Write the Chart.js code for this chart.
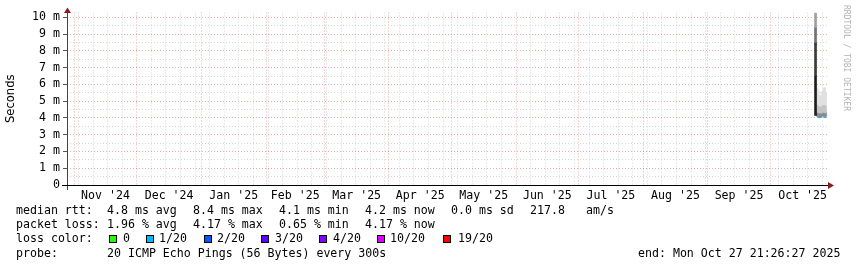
<!DOCTYPE html>
<html>
<head>
<meta charset="utf-8">
<title>smokeping - last 400 days</title>
<script src="https://cdn.jsdelivr.net/npm/chart.js@4/dist/chart.umd.min.js"></script>
<style>
  html, body { margin: 0; padding: 0; background: #fff; }
  #wrap { position: relative; width: 857px; height: 267px; overflow: hidden; }
  #wrap canvas { position: absolute; left: 0; top: 0; }
  .t { position: absolute; font-family: "DejaVu Sans Mono", monospace; font-size: 11.6px; line-height: 14px; color: #000; white-space: pre; }
  .box { position: absolute; width: 8px; height: 8px; border: 1px solid #000; box-sizing: border-box; }
  #wm { position: absolute; left: 842px; top: 5px; writing-mode: vertical-rl; font-family: "DejaVu Sans Mono", monospace; font-size: 8px; line-height: 8px; color: #b4b4b4; white-space: pre; }
</style>
</head>
<body>
<div id="wrap">
  <canvas id="chart" width="857" height="267"></canvas>
  <div id="wm">RRDTOOL / TOBI OETIKER</div>
  <div id="legend"></div>
</div>
<script>
// ==================== DATA ====================
// x values are days counted from 2024-10-01 00:00
const X_MIN = 27.5;
const X_MAX = 392.2;
const Y_MAX = 0.01029; // seconds

const monthStarts = [31, 61, 92, 123, 151, 182, 212, 243, 273, 304, 335, 365, 396];
const monthLabels = ["Nov '24", "Dec '24", "Jan '25", "Feb '25", "Mar '25", "Apr '25",
                     "May '25", "Jun '25", "Jul '25", "Aug '25", "Sep '25", "Oct '25"];
const firstSunday = 33; // Nov 3 2024

// first sample column (the big spike)
const spikeDay = 386.7;
const spikeLayersMs = [[9.4, 10.25], [8.5, 9.4], [6.5, 8.5], [4.15, 6.5]];
const spikeColors = ['#a0a0a0', '#707070', '#3a3a3a', '#1e1e1e'];
const spikeMedianMs = 8.43;

// following sample columns
const sampleDays = [387.2, 387.7, 388.2, 388.7, 389.2, 389.7, 390.2, 390.7, 391.2, 391.7];
const smokeTopMs = [5.8, 5.75, 5.6, 5.35, 5.3, 5.55, 5.65, 5.8, 5.8, 5.5];
const smokeMidMs = [4.8, 4.8, 4.75, 4.7, 4.7, 4.75, 4.8, 4.8, 4.8, 4.75];
const smokeLowMs = [4.35, 4.35, 4.3, 4.3, 4.3, 4.3, 4.35, 4.35, 4.3, 4.35];
const smokeMinMs = [4.15, 4.1, 4.05, 4.1, 4.05, 4.1, 4.15, 4.1, 4.05, 4.15];
const medianMs = [4.2, 4.15, 4.1, 4.15, 4.1, 4.15, 4.2, 4.15, 4.1, 4.2];

const lossColors = ['#26ff00', '#00b8ff', '#0059ff', '#5e00ff', '#7e00ff', '#dd00ff', '#ff0000'];
const lossLabels = ['0', '1/20', '2/20', '3/20', '4/20', '10/20', '19/20'];

const rttStats = ['4.8 ms avg', '8.4 ms max', '4.1 ms min', '4.2 ms now', '0.0 ms sd', '217.8', 'am/s'];
const lossStats = ['1.96 % avg', '4.17 % max', '0.65 % min', '4.17 % now'];
const probeText = '20 ICMP Echo Pings (56 Bytes) every 300s';
const endText = 'end: Mon Oct 27 21:26:27 2025';

// ==================== HELPERS ====================
const ms = v => v / 1000;
const MAJOR = 'rgba(232, 90, 90, 0.5)';
const MINOR = '#d6d6d6';
const NONE = 'rgba(0,0,0,0)';

const labelDays = monthLabels.map((_, i) => (monthStarts[i] + monthStarts[i + 1]) / 2);
const weekDays = [];
for (let d = firstSunday; d < X_MAX; d += 7) weekDays.push(d);

const majorMonths = monthStarts.filter(d => d >= X_MIN && d <= X_MAX);
const xTicks = Array.from(new Set([...weekDays, ...majorMonths, ...labelDays])).sort((a, b) => a - b);

const yTicks = [];
for (let i = 0; i <= 20; i++) yTicks.push(i * 0.0005);

function isMajorY(v) {
    const m = v * 1000;
    return Math.abs(m - Math.round(m)) < 1e-6;
}

function floating(days, lo, hi) {
    return days.map((d, i) => ({ x: d, y: [ms(lo[i]), ms(hi[i])] }));
}

// ==================== DATASETS ====================
const datasets = [];

spikeLayersMs.forEach((layer, i) => {
    datasets.push({
        type: 'bar',
        data: [{ x: spikeDay, y: [ms(layer[0]), ms(layer[1])] }],
        backgroundColor: spikeColors[i],
        barThickness: 2,
        grouped: false
    });
});

datasets.push({ type: 'bar', data: floating(sampleDays, smokeMidMs, smokeTopMs), backgroundColor: '#e0e0e0', barThickness: 1.1, grouped: false });
datasets.push({ type: 'bar', data: floating(sampleDays, smokeLowMs, smokeMidMs), backgroundColor: '#c4c4c4', barThickness: 1.1, grouped: false });
datasets.push({ type: 'bar', data: floating(sampleDays, smokeMinMs, smokeLowMs), backgroundColor: '#8c8c8c', barThickness: 1.1, grouped: false });

datasets.push({
    type: 'line',
    data: sampleDays.map((d, i) => ({ x: d, y: ms(medianMs[i]) })),
    borderColor: lossColors[1],
    borderWidth: 3,
    pointRadius: 0,
    tension: 0
});
datasets.push({
    type: 'line',
    data: [{ x: spikeDay, y: ms(spikeMedianMs) }],
    showLine: false,
    pointStyle: 'rect',
    pointRadius: 1.8,
    backgroundColor: lossColors[1],
    borderWidth: 0
});

// ==================== AXIS DECORATION ====================
const axisArrows = {
    id: 'axisArrows',
    afterDraw(chart) {
        const { ctx, chartArea: a } = chart;
        ctx.save();
        ctx.lineWidth = 1;
        ctx.strokeStyle = '#444';
        ctx.beginPath();
        ctx.moveTo(a.left + 0.5, a.bottom + 5);
        ctx.lineTo(a.left + 0.5, a.top - 1);
        ctx.stroke();
        ctx.strokeStyle = '#000';
        ctx.beginPath();
        ctx.moveTo(a.left - 5, a.bottom + 0.5);
        ctx.lineTo(a.right + 1, a.bottom + 0.5);
        ctx.stroke();
        ctx.fillStyle = '#8b1c1c';
        ctx.beginPath();
        ctx.moveTo(a.right + 1, a.bottom - 3);
        ctx.lineTo(a.right + 7, a.bottom + 0.5);
        ctx.lineTo(a.right + 1, a.bottom + 4);
        ctx.closePath();
        ctx.fill();
        ctx.beginPath();
        ctx.moveTo(a.left - 3, a.top + 0.5);
        ctx.lineTo(a.left + 0.5, a.top - 5);
        ctx.lineTo(a.left + 4, a.top + 0.5);
        ctx.closePath();
        ctx.fill();
        ctx.restore();
    }
};

// ==================== CHART ====================
new Chart(document.getElementById('chart'), {
    type: 'bar',
    data: { datasets },
    options: {
        responsive: false,
        animation: false,
        layout: { padding: { left: 0, top: 12.5, right: 30, bottom: 62 } },
        plugins: { legend: { display: false }, tooltip: { enabled: false } },
        scales: {
            x: {
                type: 'linear',
                min: X_MIN,
                max: X_MAX,
                offset: false,
                afterBuildTicks: s => { s.ticks = xTicks.map(v => ({ value: v })); },
                afterFit: s => { s.height = 20; },
                ticks: {
                    autoSkip: false,
                    maxRotation: 0,
                    padding: 4,
                    color: '#000',
                    font: { family: 'DejaVu Sans Mono', size: 11.6 },
                    callback: v => {
                        const i = labelDays.indexOf(v);
                        return i >= 0 ? monthLabels[i] : '';
                    }
                },
                grid: {
                    offset: false,
                    drawTicks: false,
                    color: c => {
                        const v = c.tick && c.tick.value;
                        if (labelDays.includes(v)) return NONE;
                        if (monthStarts.includes(v)) return MAJOR;
                        return MINOR;
                    }
                },
                border: { display: false, dash: [1, 2] }
            },
            y: {
                min: 0,
                max: Y_MAX,
                afterBuildTicks: s => { s.ticks = yTicks.map(v => ({ value: v })); },
                afterFit: s => { s.width = 67; },
                title: {
                    display: true,
                    text: 'Seconds',
                    color: '#000',
                    font: { family: 'DejaVu Sans', size: 11.6 },
                    padding: { top: 4, bottom: 0 }
                },
                ticks: {
                    autoSkip: false,
                    padding: 3,
                    color: '#000',
                    font: { family: 'DejaVu Sans Mono', size: 11.6 },
                    callback: v => {
                        if (!isMajorY(v)) return '';
                        const m = Math.round(v * 1000);
                        return m === 0 ? '0' : m + ' m';
                    }
                },
                grid: {
                    drawTicks: true,
                    tickLength: 4,
                    color: c => isMajorY(c.tick.value) ? MAJOR : MINOR,
                    tickColor: c => isMajorY(c.tick.value) ? '#555' : NONE
                },
                border: { display: false, dash: [1, 2] }
            }
        }
    },
    plugins: [axisArrows]
});

// ==================== LEGEND TEXT ====================
const legend = document.getElementById('legend');
function addText(text, x, yCenter) {
    const el = document.createElement('div');
    el.className = 't';
    el.textContent = text;
    el.style.left = x + 'px';
    el.style.top = (yCenter - 8) + 'px';
    legend.appendChild(el);
}
function addBox(color, x, y) {
    const el = document.createElement('div');
    el.className = 'box';
    el.style.left = x + 'px';
    el.style.top = y + 'px';
    el.style.background = color;
    legend.appendChild(el);
}

const statCols = [107, 193, 279, 365, 451, 530, 586];
const rows = [210.7, 225, 239.3, 253.7];

addText('median rtt:', 16, rows[0]);
rttStats.forEach((s, i) => addText(s, statCols[i], rows[0]));
addText('packet loss:', 16, rows[1]);
lossStats.forEach((s, i) => addText(s, statCols[i], rows[1]));

addText('loss color:', 16, rows[2]);
const boxCols = [109, 146, 204, 261, 319, 377, 443];
const boxLabelCols = [123, 159, 217, 275, 333, 390, 458];
lossColors.forEach((c, i) => {
    addBox(c, boxCols[i], 235);
    addText(lossLabels[i], boxLabelCols[i], rows[2]);
});

addText('probe:', 16, rows[3]);
addText(probeText, 107, rows[3]);
addText(endText, 638, rows[3]);
</script>
</body>
</html>
